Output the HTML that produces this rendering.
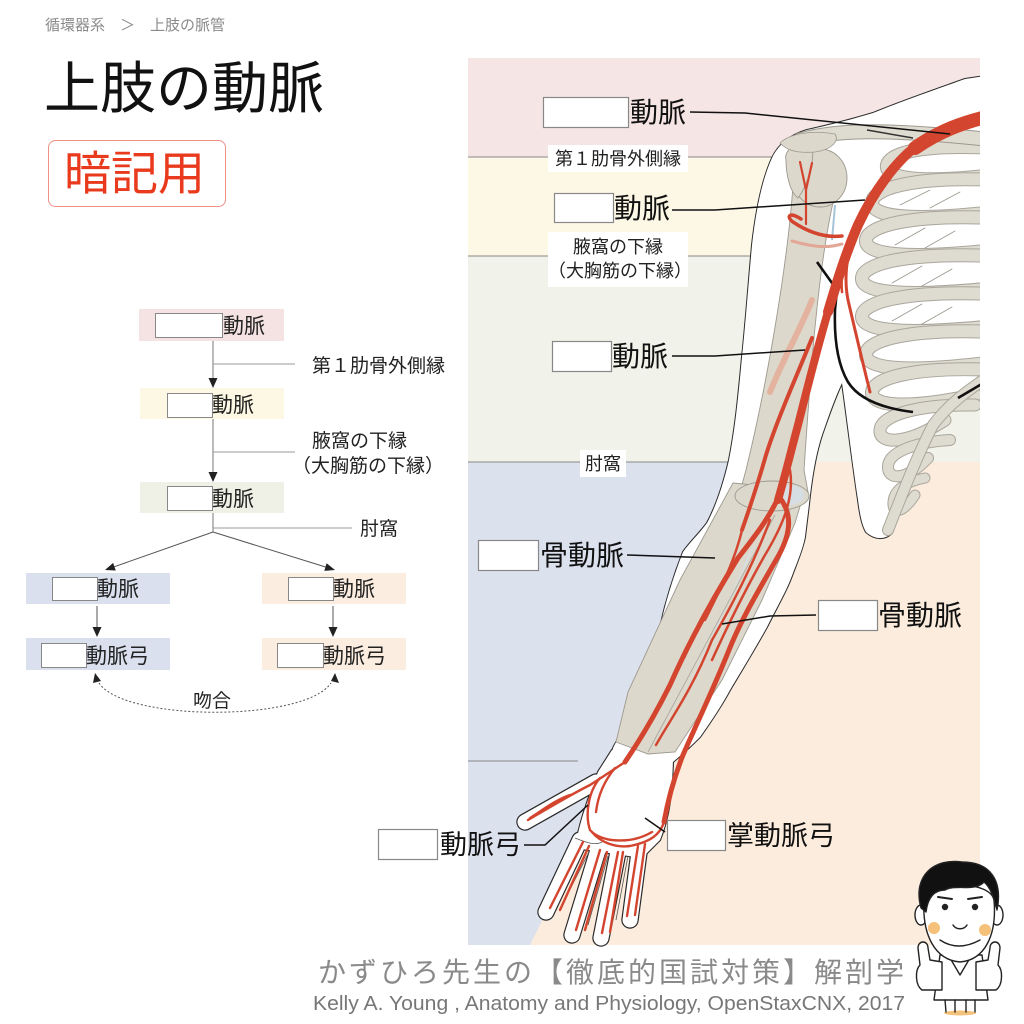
<!DOCTYPE html>
<html><head><meta charset="utf-8">
<style>
html,body{margin:0;padding:0;background:#fff;}
svg{display:block;}
text{font-family:"Liberation Sans","Noto Sans CJK JP",sans-serif;}
.jp{font-family:"Liberation Sans","Noto Sans CJK JP",sans-serif;}
</style></head>
<body>
<svg width="1024" height="1024" viewBox="0 0 1024 1024" xmlns="http://www.w3.org/2000/svg">
<defs>
<clipPath id="panel"><rect x="468" y="58" width="512" height="894"/></clipPath>
</defs>
<rect width="1024" height="1024" fill="#fff"/>

<!-- Header -->
<text x="45" y="30" font-size="15" fill="#8a8a8a" class="jp">循環器系　＞　上肢の脈管</text>
<text x="44" y="108" font-size="56" fill="#111" class="jp">上肢の動脈</text>
<rect x="48.5" y="140.5" width="177" height="66" rx="7" fill="#fff" stroke="#ef8f86" stroke-width="1"/>
<text x="64" y="190" font-size="47" fill="#ea3a1e" class="jp">暗記用</text>

<!-- Flowchart -->
<g font-size="21" fill="#222" class="jp">
<rect x="139" y="309" width="145" height="32" fill="#f5e3e3"/>
<rect x="155.5" y="313.5" width="67" height="24" fill="#fff" stroke="#888"/>
<text x="223" y="333">動脈</text>

<line x1="213" y1="341" x2="213" y2="378" stroke="#777" stroke-width="1"/>
<polygon points="208.5,378 217.5,378 213,388" fill="#222"/>
<line x1="213" y1="364" x2="295" y2="364" stroke="#999" stroke-width="1"/>
<text x="312" y="372" font-size="19">第１肋骨外側縁</text>

<rect x="140" y="388" width="144" height="31" fill="#fdf8e3"/>
<rect x="167.5" y="393.5" width="45" height="24" fill="#fff" stroke="#888"/>
<text x="212" y="412">動脈</text>

<line x1="213" y1="419" x2="213" y2="472" stroke="#777" stroke-width="1"/>
<polygon points="208.5,472 217.5,472 213,482" fill="#222"/>
<line x1="213" y1="452" x2="295" y2="452" stroke="#999" stroke-width="1"/>
<text x="312" y="447" font-size="19">腋窩の下縁</text>
<text x="292" y="472" font-size="19">（大胸筋の下縁）</text>

<rect x="140" y="482" width="144" height="31" fill="#eff1e6"/>
<rect x="167.5" y="486.5" width="45" height="24" fill="#fff" stroke="#888"/>
<text x="212" y="506">動脈</text>

<line x1="213" y1="513" x2="213" y2="532" stroke="#777" stroke-width="1"/>
<line x1="213" y1="528" x2="352" y2="528" stroke="#999" stroke-width="1"/>
<text x="360" y="535" font-size="19">肘窩</text>

<line x1="213" y1="532" x2="114.4" y2="566.7" stroke="#555" stroke-width="1"/>
<polygon points="105,570 115.8,570.5 113.1,562.9" fill="#222"/>
<line x1="213" y1="532" x2="325.5" y2="567" stroke="#555" stroke-width="1"/>
<polygon points="335,570 324.3,570.9 326.6,563.2" fill="#222"/>

<rect x="26" y="573" width="144" height="31" fill="#dae0ee"/>
<rect x="52.5" y="577.5" width="45" height="23" fill="#fff" stroke="#888"/>
<text x="97" y="596">動脈</text>
<rect x="262" y="573" width="144" height="31" fill="#fbeddf"/>
<rect x="288.5" y="577.5" width="45" height="23" fill="#fff" stroke="#888"/>
<text x="333" y="596">動脈</text>

<line x1="97" y1="606" x2="97" y2="628" stroke="#555"/>
<polygon points="92.5,627 101.5,627 97,637" fill="#222"/>
<line x1="333" y1="606" x2="333" y2="628" stroke="#555"/>
<polygon points="328.5,627 337.5,627 333,637" fill="#222"/>

<rect x="26" y="638" width="144" height="32" fill="#dae0ee"/>
<rect x="41.5" y="643.5" width="45" height="24" fill="#fff" stroke="#888"/>
<text x="86" y="663">動脈弓</text>
<rect x="262" y="638" width="144" height="32" fill="#fbeddf"/>
<rect x="277.5" y="643.5" width="46" height="24" fill="#fff" stroke="#888"/>
<text x="323" y="663">動脈弓</text>

<path d="M 99,683 C 125,722 305,722 331,683" fill="none" stroke="#555" stroke-width="1" stroke-dasharray="2 2"/>
<polygon points="95,673 93,683 101,681" fill="#222"/>
<polygon points="335,673 331,681 339,683" fill="#222"/>
<text x="193" y="707" font-size="19">吻合</text>
</g>

<g clip-path="url(#panel)">
<!-- Right panel backgrounds -->
<rect x="468" y="58" width="512" height="99" fill="#f5e5e4"/>
<rect x="468" y="157" width="512" height="99" fill="#fdf8e5"/>
<rect x="468" y="256" width="512" height="206" fill="#f1f2e9"/>
<rect x="468" y="462" width="512" height="483" fill="#fbecdd"/>
<polygon points="468,462 745,462 624,755 530,945 468,945" fill="#dce1ee"/>
<g stroke="#888" stroke-width="1">
<line x1="468" y1="157" x2="775" y2="157"/>
<line x1="468" y1="256" x2="755" y2="256"/>
<line x1="468" y1="462" x2="735" y2="462"/>
<line x1="468" y1="761" x2="578" y2="761"/>
</g>

<!-- Silhouette outlines (layer A) -->
<g stroke="#2a2a2a" fill="none" stroke-linecap="round" stroke-linejoin="round">
<path stroke-width="2" d="M 998,74 L 965,79 C 940,88 905,100 873,113 C 850,120 825,126 807,130 C 790,135 778,145 772,158 C 762,180 756,210 752,245 C 748,290 745,330 742,357 C 738,400 735,430 729,460 C 722,490 714,510 707,523 C 698,535 690,542 683,552 C 672,580 665,605 660,627 C 652,650 645,675 637,697 C 628,720 620,735 613,748 L 611,758 L 673,762 C 685,752 695,742 700,737 C 712,720 722,705 730,690 C 745,665 757,645 767,627 C 778,605 787,590 793,573 C 798,560 803,548 805,537 C 807,520 809,505 810,495 C 813,470 817,450 822,435 C 828,418 834,400 842,383 C 846,410 852,460 858,500 C 860,515 862,525 866,532 C 875,540 885,540 892,533 C 905,500 918,460 933,423 C 948,405 965,390 998,366 Z"/>
<path stroke-width="2.2" d="M 612,750 L 673,760 C 672,790 670,815 660,840 L 642,858 L 575,848 C 580,820 588,800 598,772 Z"/>
<g stroke-width="17.4">
<line x1="596" y1="782" x2="525" y2="822"/>
<line x1="580" y1="840" x2="546" y2="912"/>
<line x1="598" y1="850" x2="572" y2="935"/>
<line x1="618" y1="852" x2="601" y2="938"/>
<line x1="640" y1="845" x2="630" y2="920"/>
</g>
</g>
<!-- Silhouette fill (layer B) -->
<g fill="#fff" stroke="none">
<path d="M 998,74 L 965,79 C 940,88 905,100 873,113 C 850,120 825,126 807,130 C 790,135 778,145 772,158 C 762,180 756,210 752,245 C 748,290 745,330 742,357 C 738,400 735,430 729,460 C 722,490 714,510 707,523 C 698,535 690,542 683,552 C 672,580 665,605 660,627 C 652,650 645,675 637,697 C 628,720 620,735 613,748 L 611,758 L 673,762 C 685,752 695,742 700,737 C 712,720 722,705 730,690 C 745,665 757,645 767,627 C 778,605 787,590 793,573 C 798,560 803,548 805,537 C 807,520 809,505 810,495 C 813,470 817,450 822,435 C 828,418 834,400 842,383 C 846,410 852,460 858,500 C 860,515 862,525 866,532 C 875,540 885,540 892,533 C 905,500 918,460 933,423 C 948,405 965,390 998,366 Z"/>
<path d="M 612,750 L 673,760 C 672,790 670,815 660,840 L 642,858 L 575,848 C 580,820 588,800 598,772 Z"/>
<g stroke="#fff" stroke-width="15" stroke-linecap="round">
<line x1="596" y1="782" x2="525" y2="822"/>
<line x1="580" y1="840" x2="546" y2="912"/>
<line x1="598" y1="850" x2="572" y2="935"/>
<line x1="618" y1="852" x2="601" y2="938"/>
<line x1="640" y1="845" x2="630" y2="920"/>
</g>
</g>
<!-- finger separation hints -->
<g stroke="#555" stroke-width="0.8" fill="none">
<line x1="589" y1="852" x2="562" y2="905"/>
<line x1="608" y1="856" x2="588" y2="925"/>
<line x1="628" y1="856" x2="616" y2="920"/>
<path d="M 575,838 C 585,842 595,846 602,842"/>
</g>

<!-- Ribs -->
<g fill="none" stroke-linecap="round">
<path d="M 995,148 C 925,144 890,152 887,165 C 885,178 915,184 995,175" stroke="#aaa69c" stroke-width="14"/>
<path d="M 995,148 C 925,144 890,152 887,165 C 885,178 915,184 995,175" stroke="#dedbd1" stroke-width="12"/>
<path d="M 995,180 C 915,176 874,188 872,202 C 871,216 905,222 995,212" stroke="#aaa69c" stroke-width="14"/>
<path d="M 995,180 C 915,176 874,188 872,202 C 871,216 905,222 995,212" stroke="#dedbd1" stroke-width="12"/>
<path d="M 995,218 C 910,214 867,226 866,240 C 865,254 900,260 995,250" stroke="#aaa69c" stroke-width="14"/>
<path d="M 995,218 C 910,214 867,226 866,240 C 865,254 900,260 995,250" stroke="#dedbd1" stroke-width="12"/>
<path d="M 995,256 C 905,252 863,264 862,278 C 861,292 898,298 995,288" stroke="#aaa69c" stroke-width="14"/>
<path d="M 995,256 C 905,252 863,264 862,278 C 861,292 898,298 995,288" stroke="#dedbd1" stroke-width="12"/>
<path d="M 995,294 C 905,290 863,302 862,316 C 861,330 898,336 995,326" stroke="#aaa69c" stroke-width="14"/>
<path d="M 995,294 C 905,290 863,302 862,316 C 861,330 898,336 995,326" stroke="#dedbd1" stroke-width="12"/>
<path d="M 995,332 C 910,328 867,340 866,354 C 865,368 900,374 995,362" stroke="#aaa69c" stroke-width="14"/>
<path d="M 995,332 C 910,328 867,340 866,354 C 865,368 900,374 995,362" stroke="#dedbd1" stroke-width="12"/>
<path d="M 995,370 C 915,366 873,378 872,392 C 871,406 905,410 975,395" stroke="#aaa69c" stroke-width="14"/>
<path d="M 995,370 C 915,366 873,378 872,392 C 871,406 905,410 975,395" stroke="#dedbd1" stroke-width="12"/>
<path d="M 975,405 C 915,404 881,416 880,430 C 879,444 905,446 945,420" stroke="#aaa69c" stroke-width="13"/>
<path d="M 975,405 C 915,404 881,416 880,430 C 879,444 905,446 945,420" stroke="#dedbd1" stroke-width="11"/>
<path d="M 950,440 C 915,442 889,452 888,466 C 887,480 905,482 928,458" stroke="#aaa69c" stroke-width="12"/>
<path d="M 950,440 C 915,442 889,452 888,466 C 887,480 905,482 928,458" stroke="#dedbd1" stroke-width="10"/>
<path d="M 925,478 C 905,482 894,490 893,502 C 892,514 902,515 915,495" stroke="#aaa69c" stroke-width="11"/>
<path d="M 925,478 C 905,482 894,490 893,502 C 892,514 902,515 915,495" stroke="#dedbd1" stroke-width="9"/>
<path d="M 888,530 C 900,500 915,460 933,425 C 948,405 965,392 995,372" stroke="#aaa69c" stroke-width="12"/>
<path d="M 888,530 C 900,500 915,460 933,425 C 948,405 965,392 995,372" stroke="#dedbd1" stroke-width="10"/>
<g stroke="#9a968c" stroke-width="0.8">
<line x1="900" y1="205" x2="930" y2="190"/><line x1="930" y1="208" x2="960" y2="192"/>
<line x1="895" y1="245" x2="925" y2="228"/><line x1="925" y1="248" x2="955" y2="231"/>
<line x1="892" y1="283" x2="922" y2="266"/><line x1="922" y1="286" x2="952" y2="269"/>
<line x1="892" y1="321" x2="922" y2="304"/><line x1="922" y1="324" x2="952" y2="307"/>
</g>
</g>

<!-- Bones of arm -->
<g stroke="#9d998f" stroke-width="0.9" fill="#dcd8cc">
<path d="M 793,185 C 788,260 768,380 746,470 L 740,492 C 760,508 792,508 808,492 L 804,470 C 810,380 818,260 836,190 Z"/>
<ellipse cx="820" cy="178" rx="27" ry="29"/>
<path d="M 786,160 C 783,150 798,140 812,145 C 815,160 808,185 798,198 C 790,192 786,175 786,160 Z"/>
<path d="M 733,483 L 805,490 L 795,523 L 762,600 L 722,680 L 675,752 L 648,754 L 616,742 L 628,692 L 680,580 Z"/>
<ellipse cx="772" cy="496" rx="37" ry="15"/>
</g>
<path d="M 748,555 C 735,590 705,650 680,705 L 665,735 C 690,690 720,620 755,545 Z" fill="#d6e0e8" opacity="0.85"/>
<line x1="775" y1="515" x2="648" y2="752" stroke="#a8a49a" stroke-width="0.8"/>
<ellipse cx="790" cy="495" rx="14" ry="10" fill="#d6e0e8" opacity="0.8"/>
<line x1="835" y1="205" x2="832" y2="240" stroke="#a7c3d8" stroke-width="2"/>
<!-- clavicle & acromion -->
<g fill="none" stroke-linecap="round">
<path d="M 800,140 C 835,130 880,128 995,140" stroke="#9d998f" stroke-width="15"/>
<path d="M 800,140 C 835,130 880,128 995,140" stroke="#dedbd1" stroke-width="13"/>
</g>
<path d="M 780,143 C 790,133 815,130 835,134 C 840,142 830,150 815,152 C 800,153 788,152 780,143 Z" fill="#dcd8cc" stroke="#9d998f" stroke-width="0.8"/>
<line x1="867" y1="130" x2="913" y2="138" stroke="#333" stroke-width="1.5"/>

<!-- Pectoral fold line -->
<path d="M 817,262 L 837,290 L 835,310 C 834,340 838,365 848,382 C 858,398 880,408 913,412" fill="none" stroke="#111" stroke-width="2.6"/>
<path d="M 958,398 L 985,382" fill="none" stroke="#111" stroke-width="2.6"/>

<!-- Arteries -->
<g fill="none" stroke="#d4452f" stroke-linecap="round" stroke-linejoin="round">
<path d="M 995,115 C 962,122 938,132 915,148" stroke-width="14"/>
<path d="M 922,142 C 895,160 872,195 858,225 C 845,255 836,285 828,312" stroke-width="10"/>
<path d="M 830,305 C 818,345 808,385 798,425 C 790,455 784,480 778,500" stroke-width="8"/>
<path d="M 812,300 C 800,330 785,355 770,392" stroke="#e4b39f" stroke-width="6"/>
<path d="M 812,338 C 795,380 777,420 766,455 C 756,490 749,510 742,530" stroke-width="4"/>
<path d="M 778,498 C 768,520 752,540 738,558 C 715,595 690,640 670,685 C 655,715 640,740 625,762" stroke-width="5"/>
<path d="M 780,498 C 793,515 791,535 776,560 C 756,595 741,620 729,650 C 713,690 696,725 683,755 C 673,780 668,800 664,822" stroke-width="5"/>
<path d="M 790,470 C 795,500 780,530 765,555 C 745,590 728,625 712,660" stroke-width="2.5"/>
<path d="M 770,520 C 755,560 735,600 712,640 C 692,690 670,720 656,745" stroke-width="2.5"/>
<path d="M 742,530 C 735,560 720,590 705,620" stroke-width="2.5"/>
<path d="M 862,213 C 850,240 842,270 848,300 C 855,330 862,360 870,392" stroke-width="3"/>
<path d="M 856,228 C 846,250 840,270 842,292" stroke-width="2.5"/>
<path d="M 842,236 C 825,238 808,232 793,222 C 786,217 789,211 801,219" stroke-width="3.5"/>
<path d="M 842,244 C 825,249 810,246 792,241" stroke="#e2a796" stroke-width="3"/>
<path d="M 806,224 L 806,190 L 800,162 M 806,190 L 812,163" stroke-width="2.2"/>
<g stroke-width="2.4">
<path d="M 625,762 C 610,772 598,780 590,785 C 570,795 545,810 528,820"/>
<path d="M 600,778 C 588,792 585,815 590,830 C 600,842 630,845 652,832"/>
<path d="M 664,822 C 660,835 650,842 630,846 C 615,848 600,842 592,832"/>
<path d="M 615,768 C 605,780 598,795 596,812"/>
<path d="M 583,842 L 550,908"/>
<path d="M 589,846 L 560,910"/>
<path d="M 600,850 L 576,930"/>
<path d="M 607,852 L 585,930"/>
<path d="M 618,852 L 602,933"/>
<path d="M 623,852 L 610,932"/>
<path d="M 638,846 L 627,916"/>
<path d="M 645,844 L 635,915"/>
<path d="M 570,795 C 555,800 540,812 530,818"/>
</g>
</g>
</g>

<!-- Leader lines -->
<g fill="none" stroke="#111" stroke-width="1.5">
<polyline points="690,112 745,113 950,134"/>
<polyline points="672,210 715,210 865,200"/>
<polyline points="672,356 715,356 805,350"/>
<polyline points="627,555 715,558"/>
<polyline points="816,615 770,616 722,624"/>
<polyline points="524,845 545,845 588,805"/>
<polyline points="665,832 645,818"/>
</g>

<!-- Panel labels -->
<g class="jp" fill="#111">
<rect x="543.5" y="97.5" width="85" height="30" fill="#fff" stroke="#888" stroke-width="1.2"/>
<text x="630" y="122" font-size="28">動脈</text>

<rect x="548" y="145" width="140" height="27" fill="#fff"/>
<text x="555" y="165" font-size="18" fill="#222">第１肋骨外側縁</text>

<rect x="554.5" y="193.5" width="59" height="29" fill="#fff" stroke="#888" stroke-width="1.2"/>
<text x="614" y="218" font-size="28">動脈</text>

<rect x="548" y="232" width="140" height="55" fill="#fff"/>
<text x="573" y="253" font-size="18" fill="#222">腋窩の下縁</text>
<text x="548" y="277" font-size="18" fill="#222">（大胸筋の下縁）</text>

<rect x="552.5" y="341.5" width="59" height="30" fill="#fff" stroke="#888" stroke-width="1.2"/>
<text x="612" y="366" font-size="28">動脈</text>

<rect x="580" y="450" width="46" height="27" fill="#fff"/>
<text x="585" y="470" font-size="18" fill="#222">肘窩</text>

<rect x="478.5" y="540.5" width="60" height="30" fill="#fff" stroke="#888" stroke-width="1.2"/>
<text x="540" y="565" font-size="28">骨動脈</text>

<rect x="818.5" y="600.5" width="59" height="30" fill="#fff" stroke="#888" stroke-width="1.2"/>
<text x="878" y="625" font-size="28">骨動脈</text>

<rect x="378.5" y="829.5" width="59" height="30" fill="#fff" stroke="#888" stroke-width="1.2"/>
<text x="440" y="854" font-size="27">動脈弓</text>

<rect x="667.5" y="820.5" width="58" height="30" fill="#fff" stroke="#888" stroke-width="1.2"/>
<text x="727" y="845" font-size="27">掌動脈弓</text>
</g>

<!-- Footer -->
<text x="318" y="982" font-size="28" fill="#8a8a8a" letter-spacing="3" class="jp">かずひろ先生の【徹底的国試対策】解剖学</text>
<text x="313" y="1010" font-size="20" fill="#777" textLength="592" lengthAdjust="spacingAndGlyphs">Kelly A. Young , Anatomy and Physiology, OpenStaxCNX, 2017</text>

<!-- Cartoon -->
<g stroke="#222" stroke-width="1.4" stroke-linejoin="round" stroke-linecap="round">
<ellipse cx="960" cy="1013" rx="16" ry="2.5" fill="#f2c27a" stroke="none"/>
<path d="M 940,955 L 982,955 L 988,1000 L 934,1000 Z" fill="#fff"/>
<path d="M 945,1000 L 946,1012 M 955,1000 L 955,1012 M 966,1000 L 966,1012 M 975,1000 L 975,1012" fill="none"/>
<path d="M 950,958 L 960,975 L 970,958" fill="none"/>
<ellipse cx="921" cy="915" rx="6" ry="10" fill="#fff"/>
<ellipse cx="997" cy="915" rx="6" ry="10" fill="#fff"/>
<path d="M 924,900 C 922,935 935,960 960,962 C 985,960 997,935 994,900 C 990,880 930,880 924,900 Z" fill="#fff"/>
<path d="M 921,908 C 912,875 935,858 962,862 C 990,862 1003,880 997,910 C 993,895 990,887 984,882 C 975,892 955,884 945,890 C 935,890 928,896 926,912 Z" fill="#111"/>
<path d="M 938,897 L 952,899 M 968,899 L 982,897" fill="none" stroke-width="2"/>
<circle cx="945" cy="907" r="2.5" fill="#222"/>
<circle cx="975" cy="907" r="2.5" fill="#222"/>
<path d="M 953,925 C 956,930 964,930 967,925" fill="none"/>
<path d="M 940,940 Q 958,952 980,940" fill="none"/>
<circle cx="934" cy="928" r="6" fill="#f5c07a" stroke="none"/>
<circle cx="985" cy="930" r="6" fill="#f5c07a" stroke="none"/>
<path d="M 920,965 L 918,948 C 918,940 928,940 928,948 L 930,960 L 942,962 L 942,990 L 922,990 C 915,985 915,970 920,965 Z" fill="#fff"/>
<path d="M 998,965 L 1000,948 C 1000,940 990,940 990,948 L 988,960 L 976,962 L 976,990 L 996,990 C 1003,985 1003,970 998,965 Z" fill="#fff"/>
</g>
</svg>
</body></html>
